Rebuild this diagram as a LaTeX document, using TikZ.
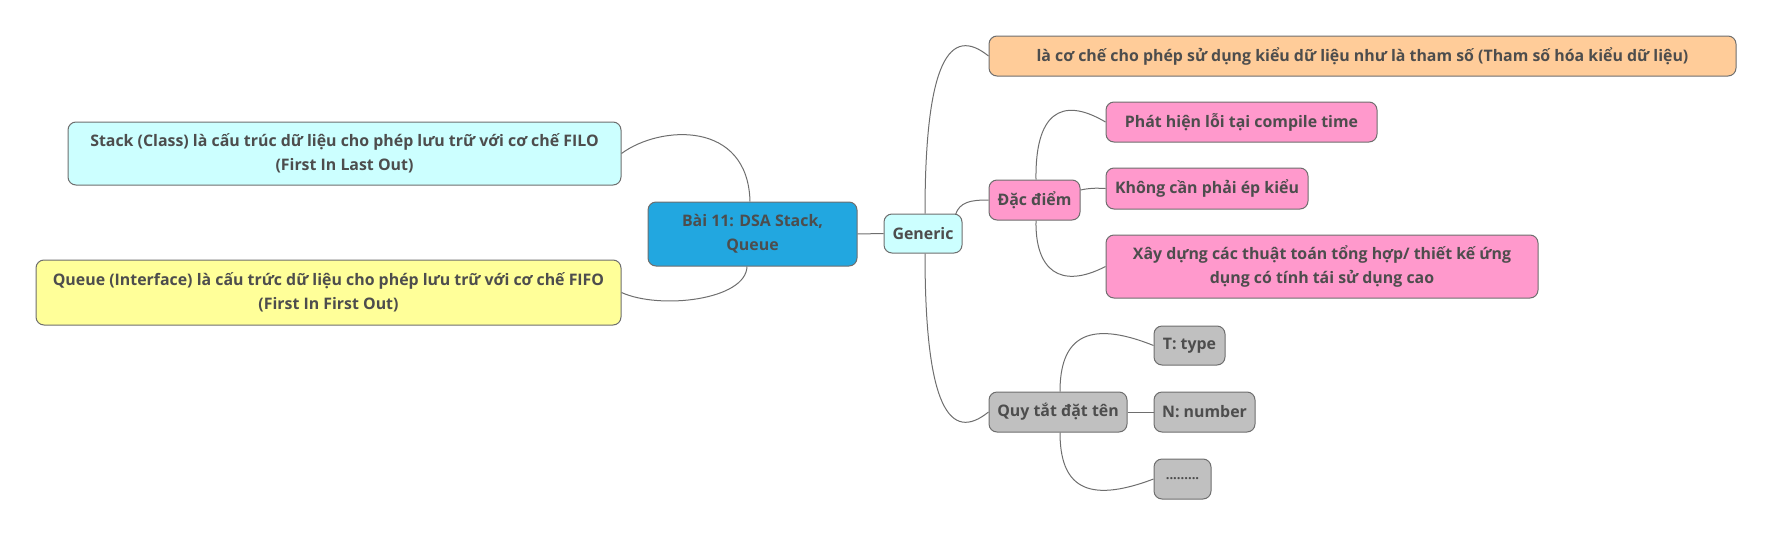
\documentclass[tikz,border=0pt]{standalone}
\usepackage{fontspec}
\setmainfont{Open Sans}[BoldFont={Open Sans Bold}]
\definecolor{textcol}{HTML}{4D4D4D}
\definecolor{bordercol}{HTML}{6E6E6E}
\definecolor{linecol}{HTML}{6E6E6E}
\definecolor{blueroot}{HTML}{22A7E0}
\definecolor{cyanbox}{HTML}{CCFFFF}
\definecolor{yellowbox}{HTML}{FFFF99}
\definecolor{orangebox}{HTML}{FFCC99}
\definecolor{pinkbox}{HTML}{FF99CC}
\definecolor{graybox}{HTML}{C0C0C0}
\begin{document}
\begin{tikzpicture}[x=1pt,y=-1pt,
  box/.style={draw=bordercol, line width=1pt, rounded corners=8pt, inner sep=0pt,
    text=textcol, align=center, font=\fontsize{15.9}{24}\selectfont\bfseries},
  conn/.style={draw=linecol, line width=1pt}]
\useasboundingbox (0,0) rectangle (1773,536);
% nodes
\node[box, fill=blueroot, minimum width=209pt, minimum height=64pt] (root) at (752.5,234) {Bài 11: DSA Stack,\\Queue};
\node[box, fill=cyanbox, minimum width=78pt, minimum height=39pt] (generic) at (923,233.5) {Generic};
\node[box, fill=cyanbox, minimum width=553pt, minimum height=63pt] (stack) at (344.5,153.5) {Stack (Class) là cấu trúc dữ liệu cho phép lưu trữ với cơ chế FILO\\(First In Last Out)};
\node[box, fill=yellowbox, minimum width=585pt, minimum height=65pt] (queue) at (328.5,292.5) {Queue (Interface) là cấu trức dữ liệu cho phép lưu trữ với cơ chế FIFO\\(First In First Out)};
\node[box, fill=orangebox, minimum width=747pt, minimum height=40pt] (orange) at (1362.5,56) {là cơ chế cho phép sử dụng kiểu dữ liệu như là tham số (Tham số hóa kiểu dữ liệu)};
\node[box, fill=pinkbox, minimum width=91pt, minimum height=40pt] (dacdiem) at (1034.5,200) {Đặc điểm};
\node[box, fill=pinkbox, minimum width=271pt, minimum height=40pt] (phathien) at (1241.5,122) {Phát hiện lỗi tại compile time};
\node[box, fill=pinkbox, minimum width=202pt, minimum height=41pt] (khong) at (1207,188.5) {Không cần phải ép kiểu};
\node[box, fill=pinkbox, minimum width=432pt, minimum height=63pt] (xaydung) at (1322,266.5) {Xây dựng các thuật toán tổng hợp/ thiết kế ứng\\dụng có tính tái sử dụng cao};
\node[box, fill=graybox, minimum width=138pt, minimum height=40pt] (quy) at (1058,412) {Quy tắt đặt tên};
\node[box, fill=graybox, minimum width=71pt, minimum height=39pt] (ttype) at (1189.5,345.5) {T: type};
\node[box, fill=graybox, minimum width=101pt, minimum height=40pt] (nnum) at (1204.5,412) {N: number};
\node[box, fill=graybox, minimum width=57pt, minimum height=40pt] (dots) at (1182.5,479) {\fontsize{13}{14}\selectfont .........};
% connectors
\draw[conn] ([xshift=-2.5pt]root.north) .. controls (748,120) and (660,125) .. (stack.east);
\draw[conn] ([xshift=-5.5pt]root.south) .. controls (746,300) and (660,310) .. (queue.east);
\draw[conn] (root.east) -- (generic.west);
\draw[conn] ([xshift=2pt]generic.north) .. controls (925,60) and (950,25) .. (orange.west);
\draw[conn] ([xshift=-7pt,yshift=-1pt]generic.north east) .. controls (960,202) and (970,200) .. (dacdiem.west);
\draw[conn] ([xshift=2pt]generic.south) .. controls (925,408) and (950,443) .. (quy.west);
\draw[conn] ([xshift=1.5pt]dacdiem.north) .. controls (1035,115) and (1060,95) .. (phathien.west);
\draw[conn] ([yshift=10pt]dacdiem.east) .. controls (1090,188) and (1095,188) .. (khong.west);
\draw[conn] ([xshift=1.5pt]dacdiem.south) .. controls (1035,270) and (1060,290) .. (xaydung.west);
\draw[conn] ([xshift=2pt]quy.north) .. controls (1060,340) and (1085,318) .. (ttype.west);
\draw[conn] (quy.east) -- (nnum.west);
\draw[conn] ([xshift=2pt]quy.south) .. controls (1060,485) and (1085,505) .. (dots.west);
\end{tikzpicture}
\end{document}
